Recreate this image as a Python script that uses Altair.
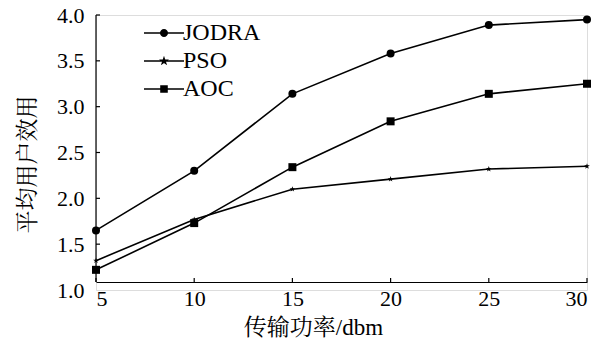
import altair as alt
import pandas as pd

# ---- data ----
power = [5, 10, 15, 20, 25, 30]
series_names = ["JODRA", "PSO", "AOC"]
jodra = [1.65, 2.30, 3.14, 3.58, 3.89, 3.95]
pso = [1.32, 1.77, 2.10, 2.21, 2.32, 2.35]
aoc = [1.22, 1.73, 2.34, 2.84, 3.14, 3.25]

x_ticks = [5, 10, 15, 20, 25, 30]
y_ticks = [1.0, 1.5, 2.0, 2.5, 3.0, 3.5, 4.0]

x_title = "传输功率/dbm"
y_title = "平均用户效用"

FONT = "Liberation Serif, Noto Serif CJK SC, Noto Sans CJK SC"
W, H = 491, 275
AX_UP = 8  # the x axis line sits this many pixels above the 1.0 level

rows = []
for name, vals in zip(series_names, [jodra, pso, aoc]):
    for p, v in zip(power, vals):
        rows.append({"power": p, "value": v, "series": name})
df = pd.DataFrame(rows)

# marker paths
star = ("M0,-0.75 L0.17,-0.235 L0.713,-0.232 L0.277,0.09 L0.441,0.607 L0,0.29 "
        "L-0.441,0.607 L-0.277,0.09 L-0.713,-0.232 L-0.17,-0.235 Z")
plot_shapes = ["circle", star, "square"]


# legend symbols: short line plus a solid marker made of nested strokes
# (scaled for symbolSize=256 -> 8px per unit)
def ring(r):
    return f"M{-r},0 A{r},{r} 0 1,0 {r},0 A{r},{r} 0 1,0 {-r},0 Z "


def sq(h):
    return f"M{-h},{-h} L{h},{-h} L{h},{h} L{-h},{h} Z "


STAR_PTS = [(0, -1), (0.227, -0.313), (0.951, -0.309), (0.369, 0.12), (0.588, 0.809),
            (0, 0.387), (-0.588, 0.809), (-0.369, 0.12), (-0.951, -0.309), (-0.227, -0.313)]


def star_path(s):
    pts = [f"{x * s:.3f},{y * s:.3f}" for x, y in STAR_PTS]
    return "M" + " L".join(pts) + " Z "


line_seg = "M-2.5,0 L2.5,0 "
leg_circle = line_seg + ring(0.41) + ring(0.26) + ring(0.11) + "M-0.05,0 L0.05,0 "
leg_star = line_seg + star_path(0.36) + star_path(0.2) + star_path(0.07)
leg_square = line_seg + sq(0.38) + sq(0.23) + sq(0.08)
legend_shapes = [leg_circle, leg_star, leg_square]

xs = alt.Scale(domain=[5, 30], nice=False, zero=False)
ys = alt.Scale(domain=[1.0, 4.0], nice=False, zero=False)

x_axis = alt.Axis(values=x_ticks, ticks=False, tickSize=0, grid=False, labelPadding=6,
                  offset=-AX_UP,
                  labelFontSize=22, labelFont=FONT, labelColor="#000000",
                  domainColor="#000000", domainWidth=1.2,
                  title=x_title, titleFont=FONT, titleFontSize=23, titleFontWeight="normal",
                  titleColor="#000000", titleX=217, titleY=45, titleBaseline="middle",
                  titleAlign="center")
y_axis = alt.Axis(values=y_ticks, ticks=False, tickSize=0, grid=False, labelPadding=12,
                  domain=False,
                  labelFontSize=22, labelFont=FONT, labelColor="#000000", format=".1f",
                  title=y_title, titleFont=FONT, titleFontSize=23, titleFontWeight="normal",
                  titleColor="#000000", titleX=-69, titleY=149, titleBaseline="middle",
                  titleAlign="center", titleAngle=270)

base = alt.Chart(df)

lines = base.mark_line(color="black", strokeWidth=1.6).encode(
    x=alt.X("power:Q", scale=xs, axis=x_axis),
    y=alt.Y("value:Q", scale=ys, axis=y_axis),
    detail="series:N",
)

points = base.mark_point(filled=True, color="black", size=64, opacity=1).encode(
    x=alt.X("power:Q", scale=xs),
    y=alt.Y("value:Q", scale=ys),
    shape=alt.Shape("series:N", scale=alt.Scale(domain=series_names, range=plot_shapes),
                    legend=None),
)

legend_layer = base.mark_point(filled=False, color="black", strokeWidth=1.5,
                               size=256, opacity=0).encode(
    x=alt.X("power:Q", scale=xs),
    y=alt.Y("value:Q", scale=ys),
    shape=alt.Shape("series:N", scale=alt.Scale(domain=series_names, range=legend_shapes),
                    legend=alt.Legend(title=None, orient="none", legendX=56, legendY=6,
                                      padding=0, symbolSize=256, symbolStrokeWidth=1.5,
                                      symbolStrokeColor="black",
                                      symbolOpacity=1, labelFont=FONT, labelFontSize=24,
                                      labelColor="#000000", labelOffset=7, rowPadding=4,
                                      labelLimit=200)),
)

# y axis line (ends at the raised x axis) and inward tick marks
yline = alt.Chart(pd.DataFrame({"v": [4.0]})).mark_rule(color="black", strokeWidth=1.2).encode(
    y=alt.Y("v:Q", scale=ys), y2=alt.value(H - AX_UP), x=alt.value(0))
xtick_df = pd.DataFrame({"v": x_ticks})
ytick_df = pd.DataFrame({"v": y_ticks[1:]})
xtick_rules = alt.Chart(xtick_df).mark_rule(color="black", strokeWidth=1.2).encode(
    x=alt.X("v:Q", scale=xs), y=alt.value(H - AX_UP), y2=alt.value(H - AX_UP - 4))
ytick_rules = alt.Chart(ytick_df).mark_rule(color="black", strokeWidth=1.2).encode(
    y=alt.Y("v:Q", scale=ys), x=alt.value(0), x2=alt.value(4))

chart = alt.layer(lines, points, legend_layer, yline, xtick_rules, ytick_rules).resolve_scale(
    shape="independent"
).properties(
    width=W, height=H,
    padding={"left": 88, "top": 7, "right": 12, "bottom": 52},
    autosize=alt.AutoSizeParams(type="none"),
).configure_view(stroke=None).configure(background="white")

chart.save("out.html", embed_options={"renderer": "svg", "actions": False})
